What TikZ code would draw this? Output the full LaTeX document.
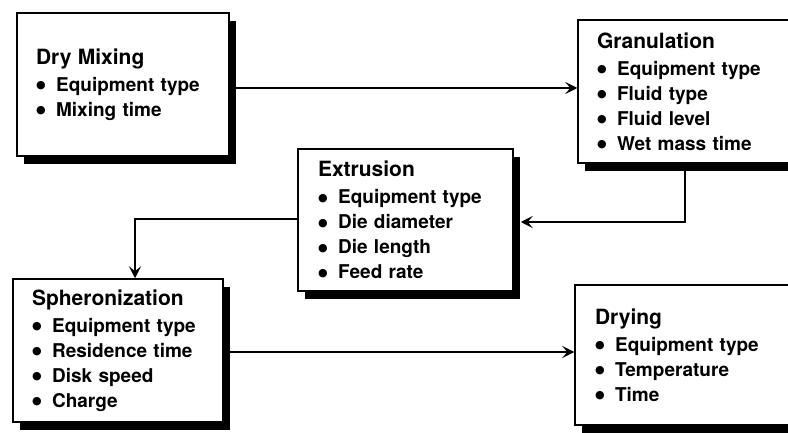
\documentclass[tikz,border=0pt]{standalone}
\usepackage{fontspec}
\setmainfont{TeX Gyre Heros}
\newfontfamily\dotfont{DejaVu Sans}
\usepackage{tikz}
\usetikzlibrary{arrows.meta,positioning,shadows}
\newcommand{\bitem}{\raisebox{2.5pt}{\dotfont\fontsize{11}{25}\selectfont ●}\hspace{10.5pt}}
\newcommand{\btitle}[1]{{\fontsize{21}{25}\selectfont #1}\\[2pt]}

\begin{document}
\begin{tikzpicture}[
    x=1pt, y=1pt,
    stepbox/.style={rectangle, draw=black, line width=1.5pt, fill=white, inner xsep=19pt, inner ysep=0pt,
      align=left, font=\bfseries\fontsize{19}{25}\selectfont,
      drop shadow={shadow xshift=7pt, shadow yshift=-8pt, fill=black, opacity=1}},
    arrow/.style={-{Stealth[length=12pt, width=12pt, inset=5pt]}, line width=1.4pt}
  ]
    \fill[white] (0,0) rectangle (788,432);
    \useasboundingbox (0,0) rectangle (788,432);
    \node[stepbox, minimum width=212pt, text width=174pt, minimum height=143pt] (dry) at (123,347.5)
      {\btitle{Dry Mixing}\bitem Equipment type\\ \bitem Mixing time};
    \node[stepbox, minimum width=222pt, text width=184pt, minimum height=143pt] (gran) at (689,340.5)
      {\btitle{Granulation}\bitem Equipment type\\ \bitem Fluid type\\ \bitem Fluid level\\ \bitem Wet mass time};
    \node[stepbox, minimum width=215pt, text width=175pt, minimum height=142pt, inner xsep=20pt] (extr) at (405.5,212)
      {\btitle{Extrusion}\bitem Equipment type\\ \bitem Die diameter\\ \bitem Die length\\ \bitem Feed rate};
    \node[stepbox, minimum width=210pt, text width=172pt, minimum height=143pt] (spher) at (118,81.5)
      {\btitle{Spheronization}\bitem Equipment type\\ \bitem Residence time\\ \bitem Disk speed\\ \bitem Charge};
    \node[stepbox, minimum width=225pt, text width=185pt, minimum height=140pt, inner xsep=20pt] (drying) at (687.5,77)
      {\btitle{Drying}\bitem Equipment type\\ \bitem Temperature\\ \bitem Time};
    \draw[arrow] (dry.east |- 0,344) -- (gran.west |- 0,344);
    \draw[arrow] (gran.south -| 685,0) |- ([xshift=7pt]extr.east |- 0,210);
    \draw[arrow] (extr.west |- 0,213) -| (spher.north -| 135,0);
    \draw[arrow] (spher.east |- 0,80) -- (drying.west |- 0,80);
  \end{tikzpicture}
\end{document}
